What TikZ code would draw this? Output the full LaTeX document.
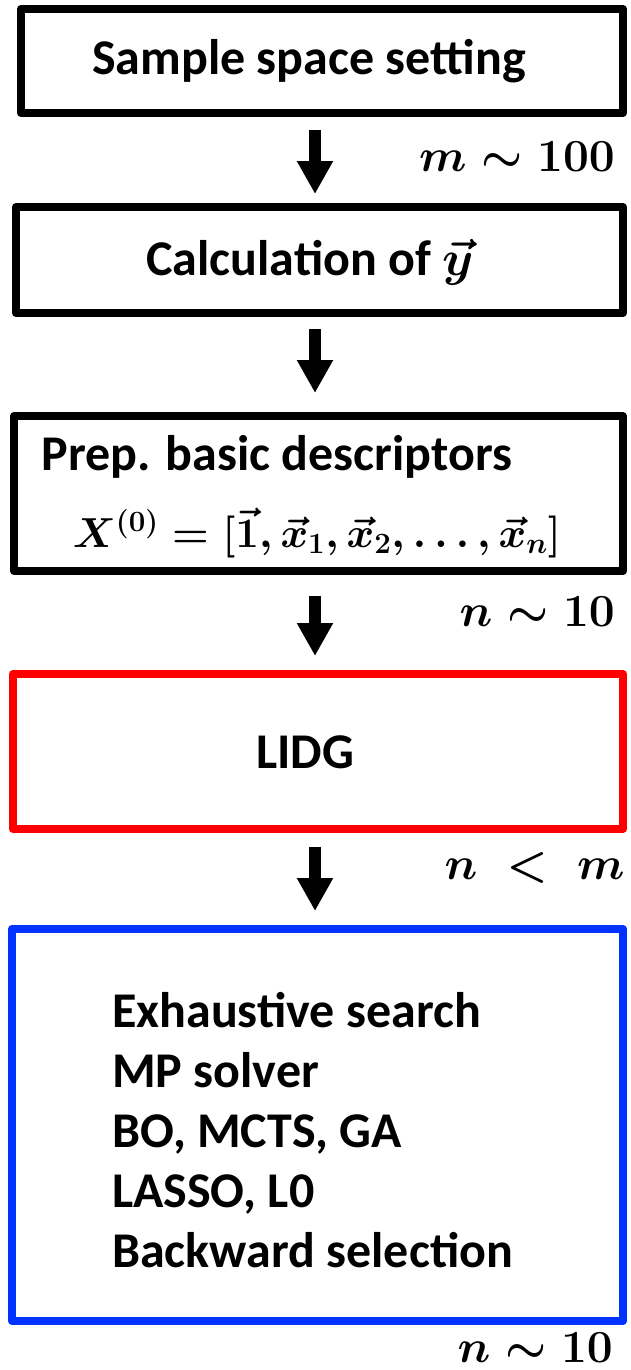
\RequirePackage{fix-cm}
\documentclass[tikz,border=0pt]{standalone}
\usepackage{fontspec}
\setmainfont{Carlito}
\usetikzlibrary{arrows.meta,calc}
\definecolor{boxred}{RGB}{255,0,0}
\definecolor{boxblue}{RGB}{0,51,255}
\begin{document}
\begin{tikzpicture}[x=1pt,y=1pt,
  box/.style={draw, line width=8pt, line join=round, inner sep=0pt},
  bigarrow/.style={line width=12pt, -{Triangle[width=34pt,length=33pt]}},
  lbl/.style={font=\fontsize{50}{60}\selectfont\bfseries\boldmath, inner sep=0pt},
  mlbl/.style={font=\fontsize{46}{55}\selectfont\boldmath, anchor=east, inner sep=0pt}]
\useasboundingbox (0,0) rectangle (630,-1370);
\clip (0,0) rectangle (630,-1370);
\fill[white] (0,0) rectangle (630,-1370);
\coordinate (ax) at (315,0);
% boxes
\node[box, minimum width=602pt, minimum height=104pt] (b1) at (322,-61) {};
\node[box, minimum width=607pt, minimum height=106pt] (b2) at (319.5,-260) {};
\node[box, minimum width=609pt, minimum height=155pt] (b3) at (318.5,-493.5) {};
\node[box, draw=boxred, minimum width=610pt, minimum height=155pt] (b4) at (318,-751.5) {};
\node[box, draw=boxblue, minimum width=611pt, minimum height=392pt] (b5) at (317.5,-1125) {};
% texts
\node[lbl] (t1) at (309,-61) {Sample space setting};
\node[lbl] (t2) at (310,-262) {Calculation of $\vec{y}$};
\node[lbl] (t3) at (277,-457) {Prep. basic descriptors};
\node[font=\fontsize{42}{50}\selectfont\boldmath, inner sep=0pt] (t3b) at (317,-533)
  {$X^{(0)} = [\vec{1}, \vec{x}_1, \vec{x}_2, \ldots, \vec{x}_n]$};
\node[lbl] (t4) at (305,-752) {LIDG};
\node[lbl, align=left, anchor=west] (t5) at (112,-1130)
  {Exhaustive search\\MP solver\\BO, MCTS, GA\\LASSO, L0\\Backward selection};
% arrows
\draw[bigarrow] ($(b1.south -| ax)+(0,-13)$) -- ($(b2.north -| ax)+(0,9)$);
\draw[bigarrow] ($(b2.south -| ax)+(0,-12)$) -- ($(b3.north -| ax)+(0,19)$);
\draw[bigarrow] ($(b3.south -| ax)+(0,-21)$) -- ($(b4.north -| ax)+(0,14)$);
\draw[bigarrow] ($(b4.south -| ax)+(0,-14)$) -- ($(b5.north -| ax)+(0,14)$);
% labels
\node[mlbl] (l1) at (615,-157) {$m \sim 100$};
\node[mlbl] (l2) at (615,-612) {$n \sim 10$};
\node[mlbl] (l3) at (625,-868) {$n \;<\; m$};
\node[mlbl] (l4) at (613,-1348) {$n \sim 10$};
\end{tikzpicture}
\end{document}
